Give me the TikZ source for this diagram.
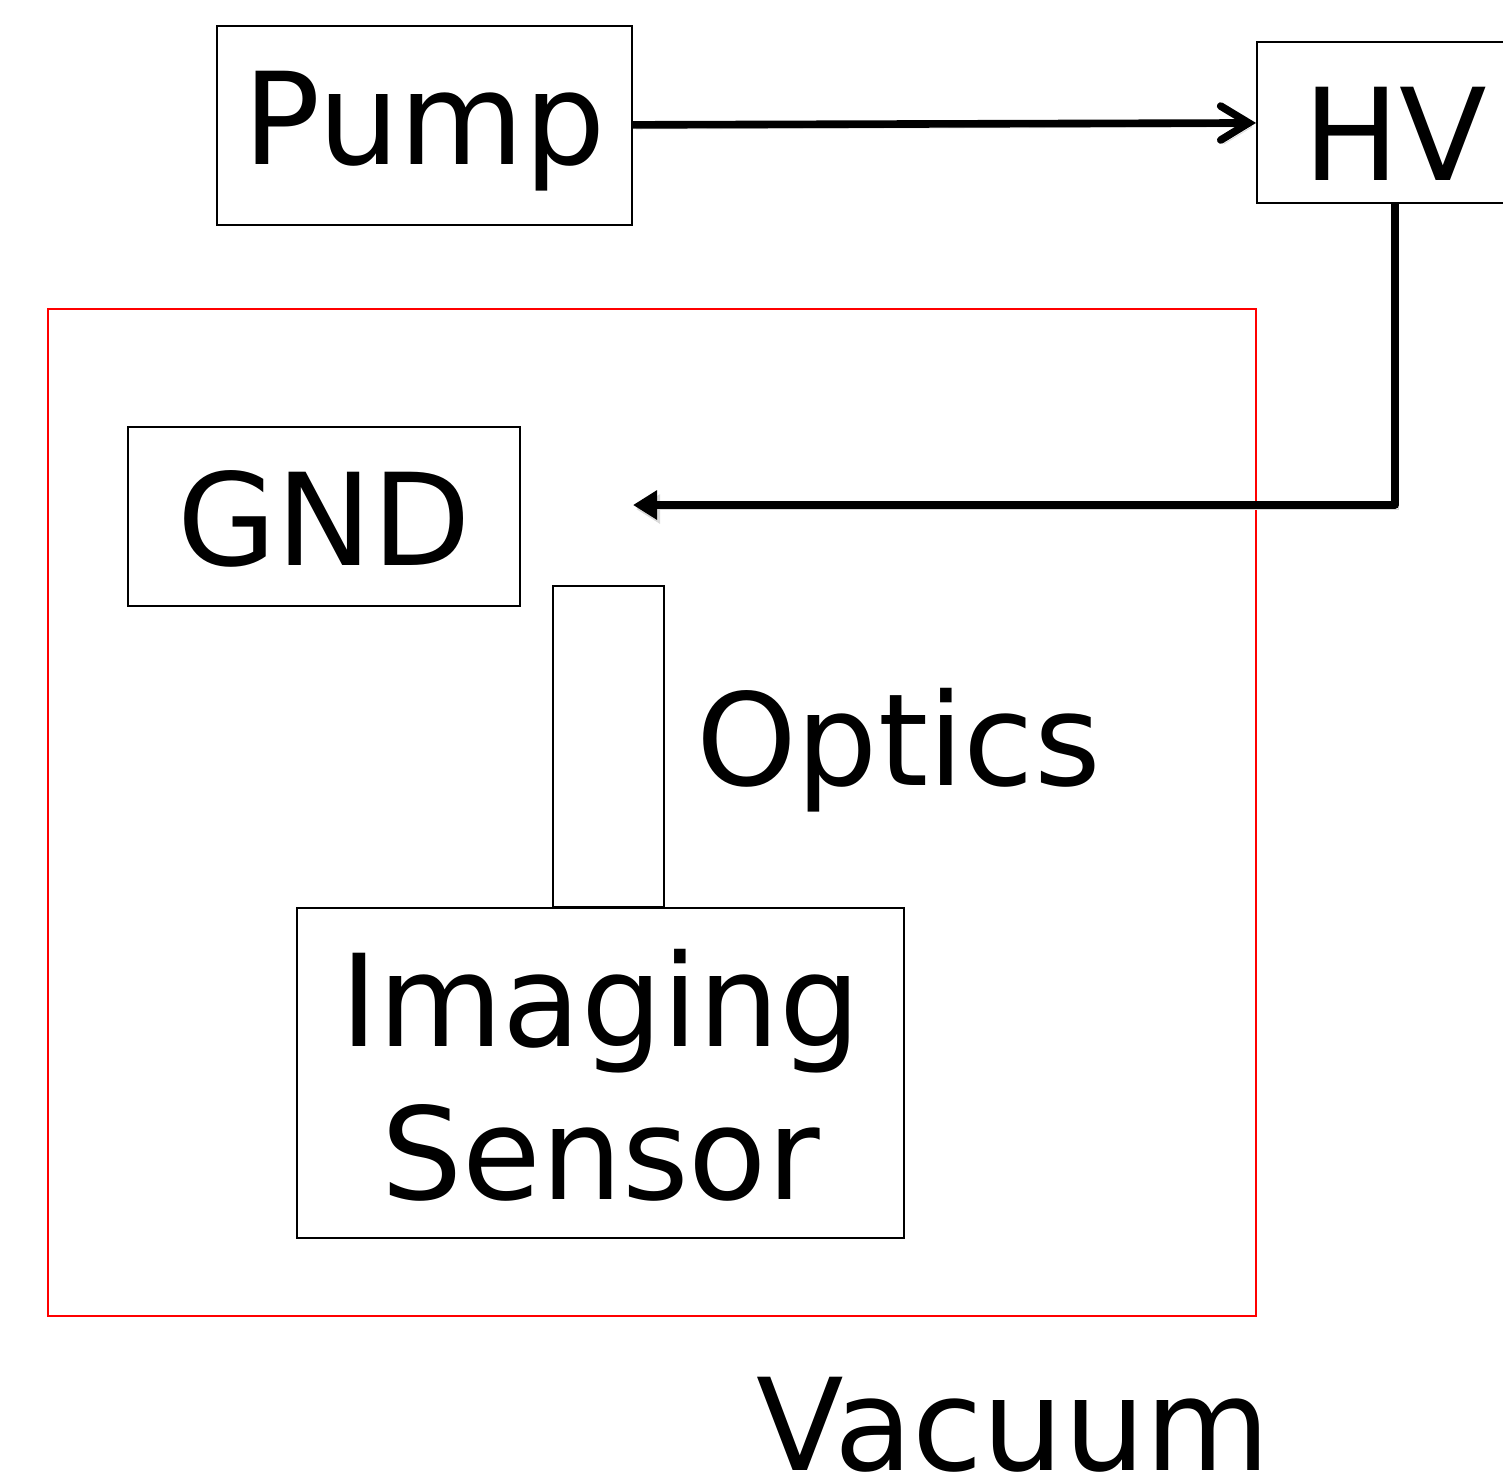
\documentclass[tikz,border=0pt]{standalone}
\usepackage{fontspec}
\setmainfont{DejaVu Sans}
\usetikzlibrary{calc, positioning}
\usetikzlibrary{arrows.meta}

\begin{document}
\begin{tikzpicture}[x=0.5pt,y=-0.5pt,
  box/.style={draw, line width=1pt, inner sep=0pt, text height=69pt,
    font=\fontsize{64pt}{76.5pt}\selectfont},
  lbl/.style={inner sep=0pt, font=\fontsize{64pt}{76.5pt}\selectfont},
  wire/.style={line width=3.8pt, line join=round,
    preaction={draw=black!15, transform canvas={shift={(1.5pt,-2pt)}}}}]
\useasboundingbox (0,0) rectangle (1503,1479);

\coordinate (gndtip) at (633,505);

\node[draw=red, line width=0.75pt, minimum width=604pt, minimum height=503.5pt] (chamber) at (652,812.5) {};

\node[box, anchor=base, minimum width=207.5pt, text depth=30.5pt] (pump) at (424.5,164) {Pump};
\node[box, anchor=base, minimum width=138pt, text depth=11.5pt] (hv) at (1395,180) {HV};
\node[box, anchor=base, minimum width=196pt, text depth=20.5pt] (gnd) at (324,565) {GND};
\node[box, anchor=north, minimum width=303.5pt, text height=145.5pt, text depth=19.5pt, align=center] (sensor) at (600.5,907) {Imaging\\Sensor};
\node[draw, line width=1pt, minimum width=55.5pt, minimum height=160.5pt] (lens) at (608.5,746.5) {};

\node[lbl, anchor=base] (optics) at (898.5,785) {Optics};
\node[lbl, anchor=base] (vacuum) at (1013,1470) {Vacuum};

% pump to HV supply, HV back into the chamber
\draw[wire, -{Straight Barb[length=14pt, width=17pt, line cap=round]}] (pump) -- (hv);
\draw[wire, -{Triangle[length=12pt, width=14pt]}] (hv.south) |- (gndtip);
\end{tikzpicture}
\end{document}
